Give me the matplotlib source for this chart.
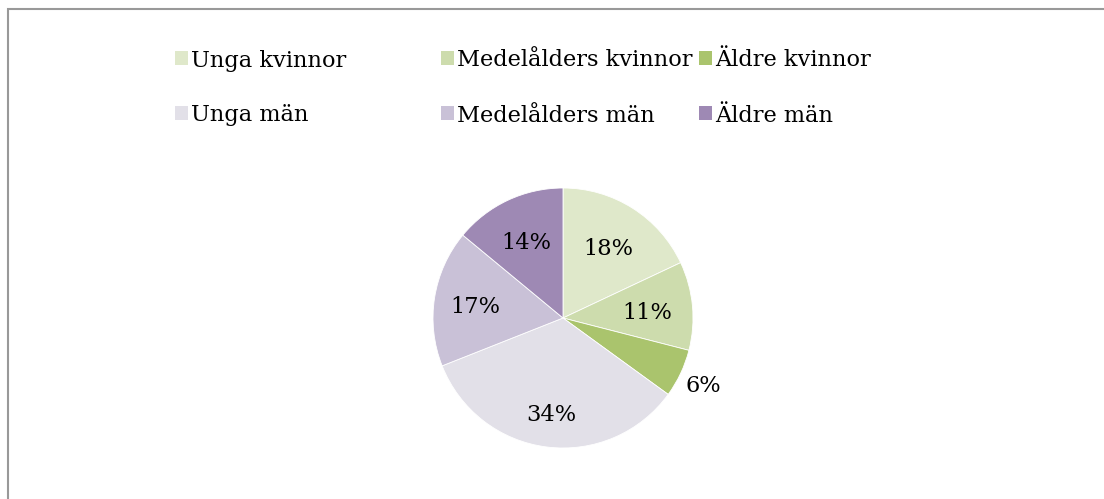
import numpy as np
import matplotlib
matplotlib.use("Agg")
import matplotlib.pyplot as plt
from matplotlib.patches import Rectangle

# Data
labels = ["Unga kvinnor", "Medelålders kvinnor", "Äldre kvinnor",
          "Unga män", "Medelålders män", "Äldre män"]
values = [18, 11, 6, 34, 17, 14]
colors = ["#dfe8ca", "#cddcad", "#aac46d", "#e2e0e8", "#c9c1d7", "#9e89b4"]

# distance des etiquettes (fraction du rayon)
label_r = [0.65, 0.65, 1.19, 0.73, 0.68, 0.66]

plt.rcParams['font.family'] = ['DejaVu Serif']
FS = 16.2

W, H = 1104, 499
fig = plt.figure(figsize=(W / 100, H / 100), dpi=100)

# cadre gris
fig.add_artist(Rectangle((7.5 / W, -0.1), 1.2, (H - 9.5) / H + 0.1,
                         transform=fig.transFigure, fill=False,
                         edgecolor="#999999", linewidth=1.5))

# camembert
cx, cy, r = 563, 318, 130
ax = fig.add_axes([(cx - r) / W, (H - cy - r) / H, 2 * r / W, 2 * r / H])
wedges, texts = ax.pie(values, colors=colors, startangle=90,
                       counterclock=False,
                       wedgeprops=dict(linewidth=0.6, edgecolor='white'))
ax.set_xlim(-1, 1)
ax.set_ylim(-1, 1)
ax.set_aspect('equal')

total = sum(values)
for w, v, d in zip(wedges, values, label_r):
    ang = np.deg2rad((w.theta1 + w.theta2) / 2)
    ax.text(d * np.cos(ang), d * np.sin(ang), f"{100 * v / total:.0f}%",
            ha='center', va='center_baseline', fontsize=FS, color='black')

# legende manuelle
sq_x = [175, 441, 699]
rows_y = [58, 113]
sq = 13
for i, lab in enumerate(labels):
    row, col = divmod(i, 3)
    x0 = sq_x[col]
    y0 = rows_y[row]
    fig.add_artist(Rectangle((x0 / W, (H - y0 - sq / 2) / H), sq / W, sq / H,
                             transform=fig.transFigure, facecolor=colors[i],
                             edgecolor='none'))
    fig.text((x0 + sq + 3) / W, (H - y0) / H, lab, fontsize=FS,
             va='center_baseline', ha='left', color='black')

fig.savefig("out.png", dpi=100)
